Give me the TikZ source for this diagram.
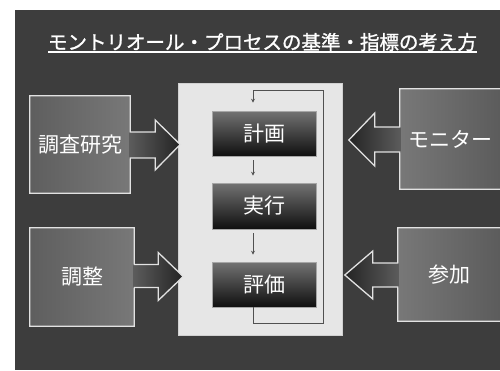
\documentclass[tikz,border=0pt]{standalone}
\usepackage{fontspec}
\setmainfont{Noto Sans CJK JP}
\newfontfamily\titlefont[FakeBold=1.2]{Noto Sans CJK JP}
\usetikzlibrary{calc,arrows.meta}
\definecolor{bgdark}{HTML}{3D3D3D}
\definecolor{panelc}{HTML}{E6E6E6}
\definecolor{edgec}{HTML}{E2E2E2}
\definecolor{loopc}{HTML}{505050}
\tikzset{
  sidebox/.style={inner sep=0pt, text=white, font=\fontsize{21}{21}\selectfont},
  lbox/.style={sidebox, left color=black!63, right color=black!53},
  rbox/.style={sidebox, left color=black!53, right color=black!64},
  outline/.style={draw=edgec, line width=1.3pt, line join=miter},
  larrowfill/.style={left color=black!64, right color=black!86},
  rarrowfill/.style={left color=black!86, right color=black!64},
  stepbox/.style={inner sep=0pt, minimum width=104pt, minimum height=45pt,
    top color=black!55, bottom color=black!94, draw=black!35, line width=0.6pt,
    text=white, font=\fontsize{21}{21}\selectfont},
  panel/.style={fill=panelc, draw=black!18, line width=0.8pt, inner sep=0pt,
    minimum width=164pt, minimum height=252pt},
  flow/.style={draw=loopc, line width=1pt, -{Stealth[length=4pt,width=4pt]},
    shorten <=4pt, shorten >=7pt},
  titletext/.style={inner sep=0pt, text=white, font=\titlefont\fontsize{19.5}{19.5}\selectfont}
}
\begin{document}
\begin{tikzpicture}[x=1pt,y=-1pt]
\clip (0,0) rectangle (500,370);
\fill[white] (0,0) rectangle (500,370);
\fill[bgdark] (15,10) rectangle (500,370);

% title
\node[titletext] (title) at (262.5,42) {モントリオール・プロセスの基準・指標の考え方};
\draw[white, line width=1.3pt] (48,52) -- (477,52);

% center panel
\node[panel] (panel) at (260,209) {};
\node[stepbox] (plan) at (264,133.5) {計画};
\node[stepbox, minimum height=46pt] (exec) at (264,206) {実行};
\node[stepbox] (eval) at (264,284.5) {評価};
\coordinate (loopbr) at (323,323);
\coordinate (looptr) at (323,90);
\draw[flow] ([xshift=-11pt]plan.south) -- ([xshift=-11pt]exec.north);
\draw[flow] ([xshift=-11pt]exec.south) -- ([xshift=-11pt]eval.north);
\draw[flow, shorten <=0pt, shorten >=8pt] ([xshift=-11pt]eval.south) |- (loopbr) -- (looptr) -| ([xshift=-11pt]plan.north);

% left box 1: 調査研究
\node[lbox, minimum width=100pt, minimum height=97pt] (survey) at (80,144.5) {調査研究};
\fill[larrowfill] ($(survey.east)+(-1,-12.5)$) -- ($(survey.east)+(25,-12.5)$) -- ($(survey.east)+(25,-24.5)$)
  -- ($(survey.east)+(50,0)$) -- ($(survey.east)+(25,25.5)$) -- ($(survey.east)+(25,13.5)$) -- ($(survey.east)+(-1,13.5)$) -- cycle;
\draw[outline] (survey.north west) -- (survey.north east) -- ($(survey.east)+(0,-12.5)$) -- ($(survey.east)+(25,-12.5)$)
  -- ($(survey.east)+(25,-24.5)$) -- ($(survey.east)+(50,0)$) -- ($(survey.east)+(25,25.5)$) -- ($(survey.east)+(25,13.5)$)
  -- ($(survey.east)+(0,13.5)$) -- (survey.south east) -- (survey.south west) -- cycle;

% left box 2: 調整
\node[lbox, minimum width=104pt, minimum height=98pt] (adjust) at (82,277) {調整};
\fill[larrowfill] ($(adjust.east)+(-1,-12.5)$) -- ($(adjust.east)+(24,-12.5)$) -- ($(adjust.east)+(24,-24.5)$)
  -- ($(adjust.east)+(49,-0.5)$) -- ($(adjust.east)+(24,23.5)$) -- ($(adjust.east)+(24,10.5)$) -- ($(adjust.east)+(-1,10.5)$) -- cycle;
\draw[outline] (adjust.north west) -- (adjust.north east) -- ($(adjust.east)+(0,-12.5)$) -- ($(adjust.east)+(24,-12.5)$)
  -- ($(adjust.east)+(24,-24.5)$) -- ($(adjust.east)+(49,-0.5)$) -- ($(adjust.east)+(24,23.5)$) -- ($(adjust.east)+(24,10.5)$)
  -- ($(adjust.east)+(0,10.5)$) -- (adjust.south east) -- (adjust.south west) -- cycle;

% right box 1: モニター
\node[rbox, minimum width=100pt, minimum height=100pt] (monitor) at (450,139) {モニター};
\fill[rarrowfill] ($(monitor.west)+(1,-12)$) -- ($(monitor.west)+(-25,-12)$) -- ($(monitor.west)+(-25,-26)$)
  -- ($(monitor.west)+(-51,1)$) -- ($(monitor.west)+(-25,27)$) -- ($(monitor.west)+(-25,13)$) -- ($(monitor.west)+(1,13)$) -- cycle;
\draw[outline] ($(monitor.north east)+(12,0)$) -- (monitor.north west) -- ($(monitor.west)+(0,-12)$) -- ($(monitor.west)+(-25,-12)$)
  -- ($(monitor.west)+(-25,-26)$) -- ($(monitor.west)+(-51,1)$) -- ($(monitor.west)+(-25,27)$) -- ($(monitor.west)+(-25,13)$)
  -- ($(monitor.west)+(0,13)$) -- (monitor.south west) -- ($(monitor.south east)+(12,0)$);

% right box 2: 参加
\node[rbox, minimum width=102pt, minimum height=93pt] (partic) at (449,274.5) {参加};
\fill[rarrowfill] ($(partic.west)+(1,-11.5)$) -- ($(partic.west)+(-25,-11.5)$) -- ($(partic.west)+(-25,-23.5)$)
  -- ($(partic.west)+(-53,0.5)$) -- ($(partic.west)+(-25,24.5)$) -- ($(partic.west)+(-25,12.5)$) -- ($(partic.west)+(1,12.5)$) -- cycle;
\draw[outline] ($(partic.north east)+(12,0)$) -- (partic.north west) -- ($(partic.west)+(0,-11.5)$) -- ($(partic.west)+(-25,-11.5)$)
  -- ($(partic.west)+(-25,-23.5)$) -- ($(partic.west)+(-53,0.5)$) -- ($(partic.west)+(-25,24.5)$) -- ($(partic.west)+(-25,12.5)$)
  -- ($(partic.west)+(0,12.5)$) -- (partic.south west) -- ($(partic.south east)+(12,0)$);
\end{tikzpicture}
\end{document}
